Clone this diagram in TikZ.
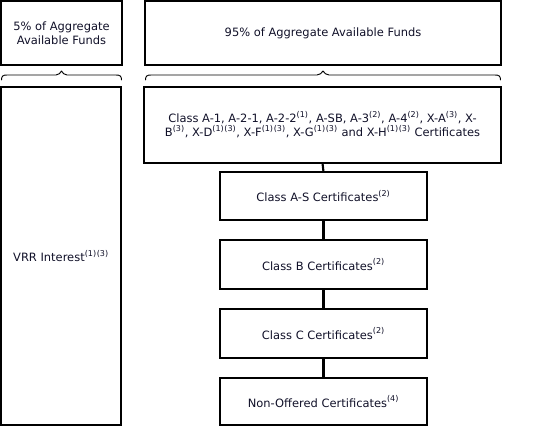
\documentclass[tikz,border=0pt]{standalone}
\usepackage{fontspec}
\setmainfont{DejaVu Sans}
\usetikzlibrary{positioning}
\definecolor{inktext}{RGB}{16,16,40}
\newcommand{\fnote}[1]{\textsuperscript{(#1)}}
\tikzset{
  box/.style={draw,line width=1.6pt,inner sep=0pt,outer sep=0pt,align=center,
    text=inktext,font=\fontsize{8.6}{10.5}\selectfont},
  link/.style={line width=1.6pt},
  brace/.style={line width=0.7pt,line cap=round,line join=round}
}
\begin{document}
\begin{tikzpicture}[x=0.75pt,y=-0.75pt]
  \useasboundingbox (0,0) rectangle (533,429);
  % top row: shares of the funds
  \node[box,minimum width=121*0.75pt,minimum height=64*0.75pt] (five) at (61.5,33)
    {5\% of Aggregate\\Available Funds};
  \node[box,minimum width=356*0.75pt,minimum height=64*0.75pt] (ninetyfive) at (323,33)
    {95\% of Aggregate Available Funds};
  % braces under the top row
  \draw[brace] (1.5,80) .. controls (1.5,76) and (3,75) .. (7,75) -- (56,75)
    .. controls (59,75) and (60,73) .. (61.5,71) .. controls (63,73) and (64,75) .. (67,75)
    -- (116,75) .. controls (120,75) and (121.5,76) .. (121.5,80);
  \draw[brace] (145.5,80) .. controls (145.5,76) and (147,75) .. (151,75) -- (317,75)
    .. controls (320,75) and (321.5,73) .. (323,71) .. controls (324.5,73) and (326,75) .. (329,75)
    -- (495,75) .. controls (499,75) and (500.5,76) .. (500.5,80);
  % left column
  \node[box,minimum width=120*0.75pt,minimum height=338*0.75pt] (vrr) at (61,256)
    {VRR Interest\fnote{1}\fnote{3}};
  % right column
  \node[box,minimum width=357*0.75pt,minimum height=76*0.75pt] (senior) at (322.5,125)
    {Class A-1, A-2-1, A-2-2\fnote{1}, A-SB, A-3\fnote{2}, A-4\fnote{2}, X-A\fnote{3}, X-\\
     B\fnote{3}, X-D\fnote{1}\fnote{3}, X-F\fnote{1}\fnote{3}, X-G\fnote{1}\fnote{3} and X-H\fnote{1}\fnote{3} Certificates};
  \node[box,minimum width=207*0.75pt,minimum height=48*0.75pt] (classas) at (323.5,196)
    {Class A-S Certificates\fnote{2}};
  \node[box,minimum width=207*0.75pt,minimum height=49*0.75pt] (classb) at (323.5,264.5)
    {Class B Certificates\fnote{2}};
  \node[box,minimum width=207*0.75pt,minimum height=49*0.75pt] (classc) at (323.5,333.5)
    {Class C Certificates\fnote{2}};
  \node[box,minimum width=207*0.75pt,minimum height=47*0.75pt] (nonoffered) at (323.5,401.5)
    {Non-Offered Certificates\fnote{4}};
  % connectors
  \draw[link] (senior.south) -- (classas.north);
  \draw[link] (classas.south) -- (classb.north);
  \draw[link] (classb.south) -- (classc.north);
  \draw[link] (classc.south) -- (nonoffered.north);
\end{tikzpicture}
\end{document}
